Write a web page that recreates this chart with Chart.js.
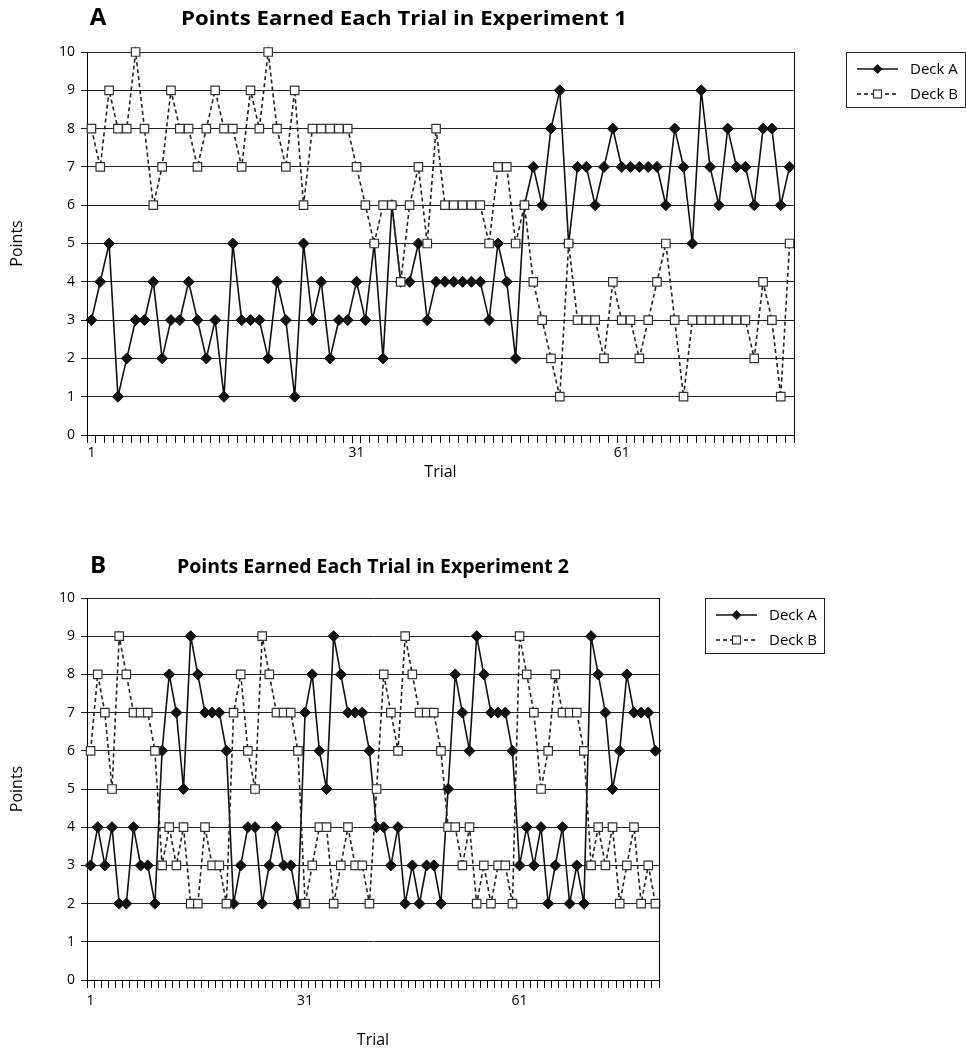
<!DOCTYPE html>
<html>
<head>
<meta charset="utf-8">
<script src="https://cdn.jsdelivr.net/npm/chart.js@4.4.0/dist/chart.umd.min.js"></script>
<style>
  html, body { margin: 0; padding: 0; background: #fff; }
  body { width: 966px; height: 1057px; position: relative; overflow: hidden; }
  .panel { position: absolute; left: 0; width: 966px; }
</style>
</head>
<body>
<div class="panel" style="top:0;height:500px"><canvas id="chartA" width="966" height="500"></canvas></div>
<div class="panel" style="top:540px;height:517px"><canvas id="chartB" width="966" height="517"></canvas></div>
<script>
// categorias: tentativas 1..80
const trials = Array.from({ length: 80 }, (_, i) => String(i + 1));
const xTickLabels = ['1', '31', '61'];
const seriesNames = ['Deck A', 'Deck B'];

// Experimento 1
const exp1DeckA = [
  3, 4, 5, 1, 2, 3, 3, 4, 2, 3, 3, 4, 3, 2, 3, 1, 5, 3, 3, 3,
  2, 4, 3, 1, 5, 3, 4, 2, 3, 3, 4, 3, 5, 2, 6, 4, 4, 5, 3, 4,
  4, 4, 4, 4, 4, 3, 5, 4, 2, 6, 7, 6, 8, 9, 5, 7, 7, 6, 7, 8,
  7, 7, 7, 7, 7, 6, 8, 7, 5, 9, 7, 6, 8, 7, 7, 6, 8, 8, 6, 7
];
const exp1DeckB = [
  8, 7, 9, 8, 8, 10, 8, 6, 7, 9, 8, 8, 7, 8, 9, 8, 8, 7, 9, 8,
  10, 8, 7, 9, 6, 8, 8, 8, 8, 8, 7, 6, 5, 6, 6, 4, 6, 7, 5, 8,
  6, 6, 6, 6, 6, 5, 7, 7, 5, 6, 4, 3, 2, 1, 5, 3, 3, 3, 2, 4,
  3, 3, 2, 3, 4, 5, 3, 1, 3, 3, 3, 3, 3, 3, 3, 2, 4, 3, 1, 5
];

// Experimento 2
const exp2DeckA = [
  3, 4, 3, 4, 2, 2, 4, 3, 3, 2, 6, 8, 7, 5, 9, 8, 7, 7, 7, 6,
  2, 3, 4, 4, 2, 3, 4, 3, 3, 2, 7, 8, 6, 5, 9, 8, 7, 7, 7, 6,
  4, 4, 3, 4, 2, 3, 2, 3, 3, 2, 5, 8, 7, 6, 9, 8, 7, 7, 7, 6,
  3, 4, 3, 4, 2, 3, 4, 2, 3, 2, 9, 8, 7, 5, 6, 8, 7, 7, 7, 6
];
const exp2DeckB = [
  6, 8, 7, 5, 9, 8, 7, 7, 7, 6, 3, 4, 3, 4, 2, 2, 4, 3, 3, 2,
  7, 8, 6, 5, 9, 8, 7, 7, 7, 6, 2, 3, 4, 4, 2, 3, 4, 3, 3, 2,
  5, 8, 7, 6, 9, 8, 7, 7, 7, 6, 4, 4, 3, 4, 2, 3, 2, 3, 3, 2,
  9, 8, 7, 5, 6, 8, 7, 7, 7, 6, 3, 4, 3, 4, 2, 3, 4, 2, 3, 2
];

const FONT = '"Open Sans", "Noto Sans", sans-serif';

// Desenha moldura direita, letra do painel, título e legenda
const decorPlugin = {
  id: 'decor',
  afterDraw(chart, args, opts) {
    const { ctx, chartArea: ca } = chart;
    ctx.save();
    ctx.strokeStyle = '#000';
    ctx.lineWidth = 1;
    ctx.beginPath();
    ctx.moveTo(Math.round(ca.right) + 0.5, ca.top);
    ctx.lineTo(Math.round(ca.right) + 0.5, ca.bottom);
    ctx.stroke();

    ctx.fillStyle = '#000';
    ctx.textBaseline = 'middle';
    ctx.textAlign = 'center';
    ctx.font = 'bold 24px ' + FONT;
    ctx.fillText(opts.letter, opts.letterX, opts.letterY);

    // título um pouco condensado, como no original
    ctx.font = 'bold 19px ' + FONT;
    const w = ctx.measureText(opts.title).width;
    const sx = opts.titleWidth / w;
    ctx.save();
    ctx.translate(opts.titleX, opts.titleY);
    ctx.scale(sx, 1);
    ctx.fillText(opts.title, 0, 0);
    ctx.restore();

    // legenda
    const L = opts.legend;
    ctx.lineWidth = 1;
    ctx.strokeStyle = '#222';
    ctx.strokeRect(L.x + 0.5, L.y + 0.5, L.w, L.h);
    ctx.font = '15px ' + FONT;
    ctx.textAlign = 'left';
    const rows = [L.y + 17, L.y + 42];
    rows.forEach((ry, i) => {
      const x0 = L.x + 11, x1 = L.x + 52, xm = (x0 + x1) / 2;
      ctx.save();
      ctx.strokeStyle = '#111';
      ctx.lineWidth = 1.5;
      ctx.setLineDash(i === 0 ? [] : [4, 3]);
      ctx.beginPath();
      ctx.moveTo(x0, ry);
      ctx.lineTo(x1, ry);
      ctx.stroke();
      ctx.restore();
      if (i === 0) {
        ctx.fillStyle = '#111';
        ctx.beginPath();
        ctx.moveTo(xm, ry - 5); ctx.lineTo(xm + 5, ry); ctx.lineTo(xm, ry + 5); ctx.lineTo(xm - 5, ry);
        ctx.closePath();
        ctx.fill();
      } else {
        ctx.fillStyle = '#fff';
        ctx.strokeStyle = '#333';
        ctx.lineWidth = 1.2;
        ctx.fillRect(xm - 4, ry - 4, 8, 8);
        ctx.strokeRect(xm - 4, ry - 4, 8, 8);
      }
      ctx.fillStyle = '#000';
      ctx.fillText(seriesNames[i], L.x + 64, ry + 1);
    });
    ctx.restore();
  }
};

function makeChart(canvasId, deckA, deckB, cfg) {
  return new Chart(document.getElementById(canvasId), {
    type: 'line',
    data: {
      labels: trials,
      datasets: [
        {
          label: seriesNames[0],
          data: deckA,
          order: 2,
          borderColor: '#111',
          borderWidth: 1.6,
          pointStyle: 'rectRot',
          pointRadius: 5.5,
          pointBackgroundColor: '#111',
          pointBorderColor: '#111',
          pointBorderWidth: 1,
          tension: 0,
          clip: false
        },
        {
          label: seriesNames[1],
          data: deckB,
          order: 1,
          borderColor: '#222',
          borderWidth: 1.6,
          borderDash: [4, 3],
          pointStyle: 'rect',
          pointRadius: 6,
          pointBackgroundColor: '#fff',
          pointBorderColor: '#333',
          pointBorderWidth: 1.2,
          tension: 0,
          clip: false
        }
      ]
    },
    options: {
      responsive: false,
      animation: false,
      events: [],
      layout: { padding: { left: 0, top: cfg.areaTop, right: 966 - cfg.areaRight, bottom: 0 } },
      plugins: {
        legend: { display: false },
        tooltip: { enabled: false },
        decor: cfg.decor
      },
      scales: {
        x: {
          type: 'category',
          offset: true,
          grid: { offset: true, drawOnChartArea: false, tickLength: 8, color: '#000', lineWidth: 1 },
          border: { color: '#000', width: 1 },
          ticks: {
            autoSkip: false,
            maxRotation: 0,
            color: '#000',
            padding: cfg.xTickPad,
            font: { family: FONT, size: 14 },
            callback: (v, i) => (xTickLabels.includes(trials[i]) ? trials[i] : '')
          },
          title: {
            display: true, text: 'Trial', color: '#000',
            font: { family: FONT, size: 16 },
            padding: { top: 0, bottom: cfg.xTitlePad }
          },
          afterFit: (s) => { s.height = cfg.xHeight; }
        },
        y: {
          min: 0,
          max: 10,
          grid: { color: '#222', lineWidth: 1, tickLength: 6 },
          border: { color: '#000', width: 1 },
          ticks: { stepSize: 1, color: '#000', padding: 6, font: { family: FONT, size: 14 } },
          title: {
            display: true, text: 'Points', color: '#000',
            font: { family: FONT, size: 16 },
            padding: { top: 8, bottom: 0 }
          },
          afterFit: (s) => { s.width = 87; }
        }
      }
    },
    plugins: [decorPlugin]
  });
}

makeChart('chartA', exp1DeckA, exp1DeckB, {
  areaTop: 52, areaRight: 794, xHeight: 65, xTickPad: 2, xTitlePad: 18,
  decor: {
    letter: 'A', letterX: 98, letterY: 18,
    title: 'Points Earned Each Trial in Experiment 1', titleX: 404, titleY: 20, titleWidth: 446,
    legend: { x: 846, y: 52, w: 119, h: 55 }
  }
});

makeChart('chartB', exp2DeckA, exp2DeckB, {
  areaTop: 58, areaRight: 659, xHeight: 77, xTickPad: 5, xTitlePad: 7,
  decor: {
    letter: 'B', letterX: 98, letterY: 26,
    title: 'Points Earned Each Trial in Experiment 2', titleX: 373, titleY: 28, titleWidth: 392,
    legend: { x: 705, y: 58, w: 119, h: 55 }
  }
});
</script>
</body>
</html>
